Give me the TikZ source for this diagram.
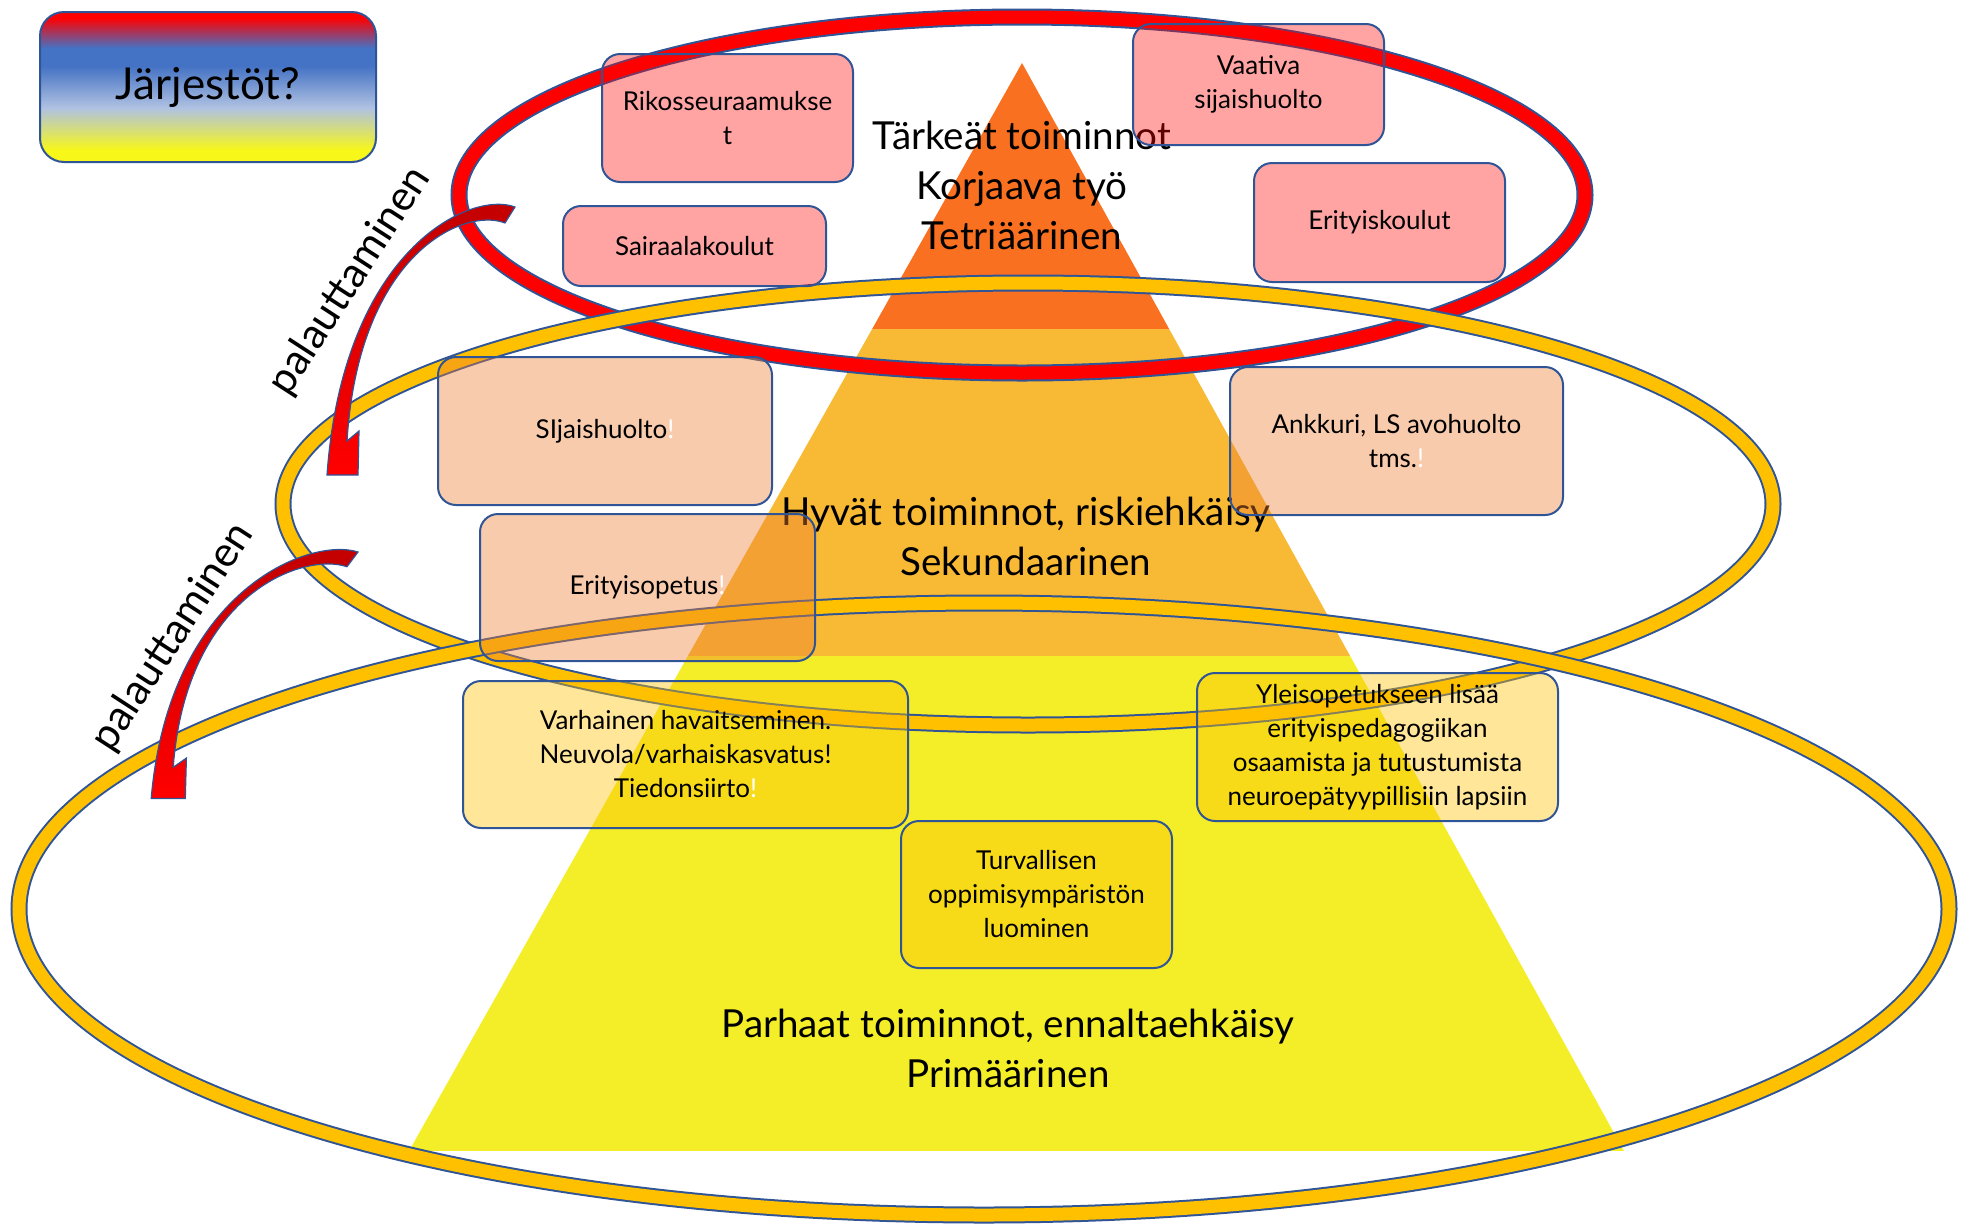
\documentclass[tikz,border=0pt]{standalone}
\usepackage{fontspec}
\setmainfont{Lato}
\definecolor{lineblue}{HTML}{2F5597}
\definecolor{ringgold}{HTML}{FFC000}
\definecolor{pyrtop}{HTML}{F97020}
\definecolor{pyrmid}{HTML}{F8B934}
\definecolor{pyrbot}{HTML}{F4EE28}
\definecolor{peach}{HTML}{ED7D31}
\definecolor{jblue}{HTML}{4472C4}
\definecolor{jlight}{HTML}{B0C2E2}
\definecolor{jyellow}{HTML}{F7F71A}
\definecolor{tailred}{HTML}{C00000}
\pgfdeclareverticalshading{jarjshade}{100bp}{color(0bp)=(jyellow); color(29bp)=(jyellow);
  color(43bp)=(jlight); color(57bp)=(jblue); color(63bp)=(jblue); color(73bp)=(red); color(100bp)=(red)}
\newcommand{\boxfont}{\fontsize{13pt}{17pt}\selectfont}
\newcommand{\pyrfont}{\fontsize{19.3pt}{25pt}\selectfont}
% curved arrow: #1 tail corner, #2 xscale, #3 yscale
\newcommand{\palarrow}[3]{
  \begin{scope}[shift={#1}, xscale=#2, yscale=#3]
  \shade[draw=lineblue, line width=0.6pt, top color=tailred, middle color=tailred!50!red, bottom color=red]
    (0,0) .. controls (-45,-17) and (-172,43) .. (-188,268) -- (-157,268) -- (-156,224)
    -- (-168,234) .. controls (-156,45) and (-50,0) .. (-10,16) -- cycle;
  \end{scope}
}
\tikzset{
  ring/.style={draw=lineblue, line width=1pt, double=#1, double distance=6.5pt},
  box/.style={draw=lineblue, line width=1pt, rounded corners=9pt, align=center, inner sep=0pt,
    fill opacity=0.4, text opacity=1, font=\boxfont},
  pinkbox/.style={box, fill=red, fill opacity=0.36},
  peachbox/.style={box, fill=peach},
  goldbox/.style={box, fill=ringgold},
  level/.style={align=center, font=\pyrfont},
  back/.style={rotate=57, font=\fontsize{21pt}{25pt}\selectfont}
}

\begin{document}
\begin{tikzpicture}[x=0.5pt, y=-0.5pt]
\useasboundingbox (0,0) rectangle (1966,1227);
% pyramid
\begin{scope}
\clip (1022,63) -- (1624,1151) -- (409,1151) -- cycle;
\fill[pyrtop] (400,50) rectangle (1640,329);
\fill[pyrmid] (400,329) rectangle (1640,656);
\fill[pyrbot] (400,656) rectangle (1640,1151);
\end{scope}
\node[level] (tert) at (1022,185) {Tärkeät toiminnot\\Korjaava työ\\Tetriäärinen};
\node[level] (sek) at (1026,536) {Hyvät toiminnot, riskiehkäisy\\Sekundaarinen};
\node[level] (prim) at (1008,1048) {Parhaat toiminnot, ennaltaehkäisy\\Primäärinen};
% rings
\draw[ring=red] (1022,195) ellipse [x radius=563, y radius=178];
\draw[ring=ringgold] (1028,504) ellipse [x radius=745, y radius=221];
\draw[ring=ringgold] (984,909) ellipse [x radius=965, y radius=306];
% boxes
\node[shade, shading=jarjshade, draw=lineblue, line width=1pt, rounded corners=12pt,
  minimum width=168pt, minimum height=75pt, font=\fontsize{22pt}{27pt}\selectfont]
  (jarj) at (208,87) {Järjestöt?};
\node[pinkbox, minimum width=125.5pt, minimum height=64pt] (rikos) at (727.5,118) {Rikosseuraamukse\\t};
\node[pinkbox, minimum width=131.5pt, minimum height=40pt] (sairaala) at (694.5,246) {Sairaalakoulut};
\node[pinkbox, minimum width=125.5pt, minimum height=60.5pt] (vaativa) at (1258.5,84.5) {Vaativa\\sijaishuolto};
\node[pinkbox, minimum width=125.5pt, minimum height=59.5pt] (erkoulut) at (1379.5,222.5) {Erityiskoulut};
\node[peachbox, minimum width=167pt, minimum height=74pt] (sijais) at (605,431) {SIjaishuolto\textcolor{white}{!}};
\node[peachbox, minimum width=167.5pt, minimum height=73.5pt] (eropetus) at (647.5,587.5) {Erityisopetus\textcolor{white}{!}};
\node[peachbox, minimum width=166.5pt, minimum height=74pt] (ankkuri) at (1396.5,441) {Ankkuri, LS avohuolto\\tms.\textcolor{white}{!}};
\node[goldbox, minimum width=222.5pt, minimum height=73.5pt] (varhainen) at (685.5,754.5)
  {Varhainen havaitseminen.\\Neuvola/varhaiskasvatus!\\Tiedonsiirto\textcolor{white}{!}};
\node[goldbox, minimum width=180.5pt, minimum height=74pt] (yleis) at (1377.5,747)
  {Yleisopetukseen lisää\\erityispedagogiikan\\osaamista ja tutustumista\\neuroepätyypillisiin lapsiin};
\node[goldbox, minimum width=135.5pt, minimum height=73.5pt] (turva) at (1036.5,894.5)
  {Turvallisen\\oppimisympäristön\\luominen};
% palauttaminen arrows
\palarrow{(515,207)}{1}{1}
\palarrow{(358,552)}{1.1}{0.92}
\node[back] (pal1) at (350,281) {palauttaminen};
\node[back] (pal2) at (173,637) {palauttaminen};
\end{tikzpicture}
\end{document}
